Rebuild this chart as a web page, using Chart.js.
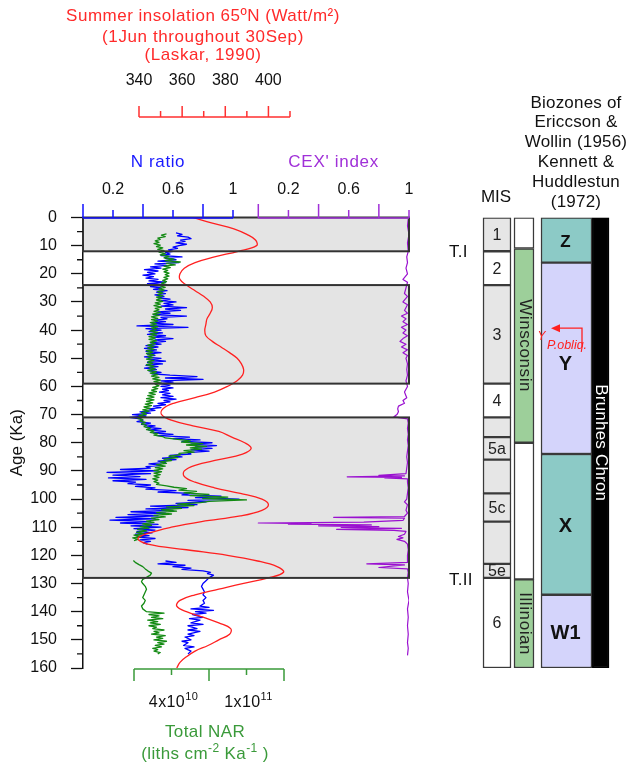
<!DOCTYPE html>
<html>
<head>
<meta charset="utf-8">
<script src="https://cdn.jsdelivr.net/npm/chart.js@4.4.1/dist/chart.umd.min.js"></script>
<style>
  html, body { margin: 0; padding: 0; background: #fff; }
  #wrap { position: relative; width: 630px; height: 764px; }
  #wrap canvas { position: absolute; left: 0; top: 0; }
</style>
</head>
<body>
<div id="wrap">
  <canvas id="main" width="630" height="764"></canvas>
  <canvas id="cols" width="630" height="764"></canvas>
</div>
<script>
// ---- data (ages in Ka) ----
const glacialBands = [[0, 12], [24, 59], [71, 128]];

// summer insolation 65N, [age, W/m2]
const insolation = [[0,365],[2,374],[4,384],[6,390],[8,394],[10,394.5],[12,386],[14,375],[16,366],[18,361],[20,359],[22,359],
  [24,362],[26,366],[28,370],[30,373],[32,374],[34,373],[36,371.5],[38,371],[40,370.5],[42,371],[44,374],[46,378],[48,382],
  [50,385.5],[52,387.5],[54,388.5],[56,388],[58,385.5],[60,381],[62,375],[64,366],[66,356],[68,351],[70,350.5],[72,355],
  [74,365],[76,377],[78,383],[80,389],[82,392],[84,388],[86,377],[88,366],[90,361],[92,361],[94,366],[96,375],[98,387],
  [100,397],[102,400],[104,397],[106,387],[108,369],[110,355],[112,345],[114,339.5],[116,344],[118,362],[120,381],[122,395],
  [124,404],[126,407],[128,400],[130,388],[132,377],[134,366],[136,359],[138,357.5],[140,362],[142,370],[144,377],[146,382.5],
  [148,382],[150,377],[152,372],[154,366],[156,362],[158,359],[160,357.5]];

// N ratio, [age, value]
const nRatio = [[5.5,0.62],[6,0.66],[6.5,0.63],[7,0.70],[7.5,0.72],[8,0.65],[8.5,0.68],[9,0.62],[9.5,0.69],[10,0.64],
  [10.5,0.60],[11,0.63],[11.5,0.57],[12,0.60],[12.5,0.55],[13,0.58],[13.5,0.52],[14,0.66],[14.5,0.55],[15,0.62],[15.5,0.50],
  [16,0.64],[16.5,0.48],[17,0.56],[17.5,0.45],[18,0.52],[18.5,0.41],[19,0.50],[19.5,0.43],[20,0.48],[20.5,0.40],[21,0.47],
  [21.5,0.42],[22,0.50],[22.5,0.44],[23,0.55],[23.5,0.43],[24,0.56],[24.5,0.45],[25,0.52],[25.5,0.47],[26,0.56],[26.5,0.49],
  [27,0.55],[27.5,0.48],[28,0.54],[28.5,0.50],[29,0.58],[29.5,0.52],[30,0.62],[30.5,0.54],[31,0.60],[31.5,0.52],[32,0.69],
  [32.5,0.55],[33,0.65],[33.5,0.50],[34,0.58],[34.5,0.47],[35,0.69],[35.5,0.52],[36,0.56],[36.5,0.48],[37,0.55],[37.5,0.46],
  [38,0.60],[38.5,0.36],[39,0.70],[39.5,0.42],[40,0.52],[40.5,0.44],[41,0.53],[41.5,0.43],[42,0.55],[42.5,0.47],[43,0.60],
  [43.5,0.48],[44,0.55],[44.5,0.45],[45,0.52],[45.5,0.42],[46,0.50],[46.5,0.41],[47,0.49],[47.5,0.42],[48,0.52],[48.5,0.43],
  [49,0.48],[49.5,0.41],[50,0.52],[50.5,0.44],[51,0.55],[51.5,0.43],[52,0.53],[52.5,0.42],[53,0.50],[53.5,0.41],[54,0.49],
  [54.5,0.44],[55,0.52],[55.5,0.46],[56,0.58],[56.5,0.76],[57,0.55],[57.5,0.80],[58,0.52],[58.5,0.60],[59,0.51],[59.5,0.58],
  [60,0.52],[60.5,0.60],[61,0.53],[61.5,0.57],[62,0.51],[62.5,0.58],[63,0.53],[63.5,0.60],[64,0.52],[64.5,0.62],[65,0.54],
  [65.5,0.58],[66,0.50],[66.5,0.55],[67,0.47],[67.5,0.52],[68,0.44],[68.5,0.48],[69,0.38],[69.5,0.45],[70,0.33],[70.5,0.42],
  [71,0.31],[71.5,0.38],[72,0.40],[72.5,0.36],[73,0.45],[73.5,0.39],[74,0.48],[74.5,0.42],[75,0.52],[75.5,0.44],[76,0.55],
  [76.5,0.47],[77,0.60],[77.5,0.50],[78,0.71],[78.5,0.60],[79,0.78],[79.5,0.66],[80,0.86],[80.5,0.72],[81,0.89],[81.5,0.75],
  [82,0.86],[82.5,0.72],[83,0.84],[83.5,0.70],[84,0.72],[84.5,0.58],[85,0.66],[85.5,0.53],[86,0.62],[86.5,0.50],[87,0.55],
  [87.5,0.44],[88,0.52],[88.5,0.42],[89,0.45],[89.5,0.25],[90,0.50],[90.5,0.16],[91,0.45],[91.5,0.20],[92,0.38],[92.5,0.17],
  [93,0.42],[93.5,0.20],[94,0.35],[94.5,0.30],[95,0.45],[95.5,0.35],[96,0.48],[96.5,0.42],[97,0.62],[97.5,0.50],[98,0.71],
  [98.5,0.66],[99,0.92],[99.5,0.75],[100,1.04],[100.5,0.70],[101,0.82],[101.5,0.62],[102,0.76],[102.5,0.45],[103,0.70],
  [103.5,0.42],[104,0.60],[104.5,0.32],[105,0.55],[105.5,0.30],[106,0.50],[106.5,0.22],[107,0.48],[107.5,0.18],[108,0.45],
  [108.5,0.25],[109,0.50],[109.5,0.32],[110,0.52],[110.5,0.34],[111,0.48],[111.5,0.36],[112,0.46],[112.5,0.35],[113,0.44],
  [113.5,0.36],[114,0.48],[114.5,0.38],[115,0.45],[115.5,0.40],[116,0.43],[119,null],
  [122,0.55],[122.5,0.62],[123,0.50],[123.5,0.68],[124,0.60],[124.5,0.72],[125,0.66],[125.5,0.80],[126,0.85],[126.5,0.83],
  [127,0.87],[128,0.84],[129,0.82],[130,0.80],[131,0.79],[132,0.80],[133,0.81],[134,0.80],[135,0.82],[136,0.80],[137,0.81],
  [138,0.78],[138.5,0.84],[139,0.72],[139.5,0.87],[140,0.75],[140.5,0.82],[141,0.73],[142,0.80],[142.5,0.71],[143,0.78],
  [144,0.72],[144.5,0.80],[145,0.70],[146,0.76],[146.5,0.70],[147,0.78],[148,0.70],[148.5,0.74],[149,0.68],[150,0.72],
  [150.5,0.66],[151,0.70],[152,0.67],[152.5,0.74],[153,0.68],[154,0.72],[155,0.70]];

// total NAR, [age, value x 1e10]
const totalNAR = [[5.8,3.6],[6.3,3.2],[6.8,3.5],[7.3,2.9],[7.8,3.1],[8.3,2.7],[8.8,3.0],[9.3,2.6],[9.8,3.1],[10.3,2.8],
  [10.8,3.3],[11.3,2.9],[11.8,3.4],[12.3,3.0],[12.8,3.5],[13.3,3.1],[13.8,3.8],[14.3,3.4],[14.8,4.2],[15.3,3.5],[15.8,4.7],
  [16.3,3.6],[16.8,4.3],[17.3,3.4],[17.8,3.9],[18.3,3.3],[18.8,3.7],[19.3,3.4],[19.8,3.8],[20.3,3.5],[20.8,3.8],[21.3,3.4],
  [21.8,3.7],[22.3,3.3],[22.8,3.6],[23.3,3.2],[23.8,3.6],[24.3,3.1],[24.8,3.5],[25.3,3.0],[25.8,3.4],[26.3,2.9],[26.8,3.3],
  [27.3,2.9],[27.8,3.3],[28.3,2.8],[28.8,3.2],[29.3,2.8],[29.8,3.3],[30.3,2.7],[30.8,3.1],[31.3,2.6],[31.8,3.2],[32.3,2.7],
  [32.8,3.0],[33.3,2.6],[33.8,3.1],[34.3,2.5],[34.8,3.0],[35.3,2.4],[35.8,2.9],[36.3,2.4],[36.8,2.9],[37.3,2.3],[37.8,2.8],
  [38.3,2.3],[38.8,2.9],[39.3,2.4],[39.8,2.8],[40.3,2.3],[40.8,2.9],[41.3,2.3],[41.8,2.8],[42.3,2.2],[42.8,2.7],[43.3,2.2],
  [43.8,2.8],[44.3,2.3],[44.8,2.7],[45.3,2.1],[45.8,2.6],[46.3,2.1],[46.8,2.6],[47.3,2.0],[47.8,2.5],[48.3,2.0],[48.8,2.6],
  [49.3,2.1],[49.8,2.5],[50.3,2.0],[50.8,2.6],[51.3,2.1],[51.8,2.5],[52.3,2.0],[52.8,2.6],[53.3,2.2],[53.8,2.7],[54.3,2.1],
  [54.8,2.8],[55.3,2.3],[55.8,2.9],[56.3,2.4],[56.8,3.0],[57.3,2.5],[57.8,3.1],[58.3,2.6],[58.8,3.2],[59.3,2.7],[59.8,3.0],
  [60.3,2.5],[60.8,2.9],[61.3,2.4],[61.8,2.8],[62.3,2.2],[62.8,2.7],[63.3,2.1],[63.8,2.6],[64.3,2.0],[64.8,2.6],[65.3,2.0],
  [65.8,2.5],[66.3,1.9],[66.8,2.4],[67.3,1.8],[67.8,2.3],[68.3,1.7],[68.8,2.2],[69.3,1.6],[69.8,2.0],[70.3,1.4],[70.8,1.9],
  [71.3,1.3],[71.8,1.7],[72.3,1.5],[72.8,1.9],[73.3,1.6],[73.8,2.0],[74.3,1.8],[74.8,2.3],[75.3,2.0],[75.8,2.6],[76.3,2.3],
  [76.8,2.9],[77.3,2.6],[77.8,3.3],[78.3,3.5],[78.8,4.5],[79.3,5.5],[79.8,4.8],[80.3,6.5],[80.8,5.2],[81.3,6.8],[81.8,5.5],
  [82.3,6.4],[82.8,5.0],[83.3,5.8],[83.8,4.6],[84.3,4.7],[84.8,3.8],[85.3,4.5],[85.8,3.4],[86.3,4.0],[86.8,3.1],[87.3,3.6],
  [87.8,2.8],[88.3,3.5],[88.8,2.7],[89.3,3.3],[89.8,2.6],[90.3,3.2],[90.8,2.6],[91.3,3.1],[91.8,2.6],[92.3,3.0],[92.8,2.5],
  [93.3,2.9],[93.8,2.6],[94.3,3.0],[94.8,2.8],[95.3,3.6],[95.8,4.2],[96.3,5.2],[96.8,4.6],[97.3,6.0],[97.8,5.0],[98.3,7.0],
  [98.8,5.5],[99.3,8.5],[99.8,6.5],[100.3,10.0],[100.8,7.0],[101.3,6.3],[101.8,4.5],[102.3,5.8],[102.8,3.6],[103.3,4.8],
  [103.8,3.2],[104.3,4.4],[104.8,2.8],[105.3,4.0],[105.8,2.6],[106.3,3.5],[106.8,2.4],[107.3,3.0],[107.8,2.0],[108.3,2.6],
  [108.8,1.7],[109.3,2.4],[109.8,1.5],[110.3,2.2],[110.8,1.3],[111.3,2.0],[111.8,1.2],[112.3,1.8],[112.8,1.0],[113.3,1.6],
  [113.8,0.9],[114.3,1.3],[114.8,1.0],[118,null],
  [121.8,0.95],[122.5,1.1],[123.3,1.4],[124,1.7],[124.8,1.9],[125.5,2.1],[126.3,2.4],[127,2.3],[127.8,2.0],[128.5,1.7],
  [129.3,1.6],[130,1.7],[131,1.9],[132,2.0],[133,1.9],[134,1.8],[135,1.7],[136,1.9],[137,1.8],[138,1.6],[139,1.7],[140,2.0],
  [140.5,3.4],[141,2.2],[141.5,3.0],[142,2.4],[142.5,3.3],[143,2.1],[143.5,2.9],[144,2.3],[144.5,3.1],[145,2.2],[145.5,2.8],
  [146,2.5],[146.5,3.4],[147,2.6],[147.5,3.0],[148,2.4],[148.5,3.5],[149,2.8],[149.5,3.3],[150,2.6],[150.5,3.6],[151,2.9],
  [151.5,3.4],[152,2.7],[152.5,3.2],[153,2.5],[153.5,2.9],[154,2.6],[154.5,3.1],[155,2.9]];

// CEX' index, [age, value]
const cexIndex = [[0.5,0.995],[3,0.99],[6,1.0],[9,0.99],[12,0.995],[14,0.985],[16,0.99],[18,0.98],[20,0.99],[22,0.96],
  [23,0.99],[25,0.98],[27,0.97],[28,0.99],[30,0.96],[31,0.99],[33,0.97],[34,0.99],[35,0.95],[36,0.98],[37,0.96],[38,0.99],
  [39,0.95],[40,0.98],[41,0.96],[42,0.99],[43,0.96],[44,0.94],[45,0.98],[46,0.95],[47,0.99],[48,0.96],[49,0.99],[50,0.98],
  [52,0.99],[54,0.985],[56,0.99],[58,0.98],[60,0.99],[62,0.97],[64,0.985],[65,0.96],[66,0.97],[67,0.93],[68,0.925],
  [69,0.93],[70,0.92],[70.8,0.90],[71.5,0.99],[73,0.995],[75,0.99],[77,0.995],[79,0.99],[81,0.995],[83,0.99],[85,0.985],
  [87,0.99],[89,0.985],[91,0.98],[91.6,0.80],[91.8,0.97],[92.1,0.59],[92.3,0.95],[92.5,0.84],[92.8,0.99],[94,0.99],
  [96,0.995],[98,0.99],[100,0.985],[101,0.97],[102,0.99],[104,0.98],[105,0.99],[106.2,0.97],[106.5,0.50],[106.8,0.97],
  [107.6,0.96],[108.2,0.70],[108.5,0.0],[108.7,0.35],[108.9,0.20],[109.2,0.75],[109.5,0.40],[109.8,0.80],[110.1,0.55],
  [110.4,0.95],[110.8,0.52],[111.1,0.90],[111.5,0.98],[112.5,0.97],[113.3,0.93],[113.8,0.96],[114.3,0.92],[115,0.97],
  [116,0.99],[118,0.995],[120,0.99],[122.5,0.99],[123,0.72],[123.4,0.97],[124.3,0.80],[124.8,0.99],[126,0.995],[128,0.99],
  [130,0.995],[133,0.99],[136,1.0],[139,0.99],[142,0.995],[145,0.99],[148,0.995],[151,0.99],[153,0.995],[155.5,0.99]];

// tick labels
const ageTickStep = 10;
const insolationTicks = [340, 360, 380, 400];
const nRatioTicks = [0.2, 0.6, 1];
const cexTicks = [0.2, 0.6, 1];
const narTicks = [[4, '4x10', '10'], [10, '1x10', '11']];

// stratigraphic columns [label, from, to]
const misStages = [['1',0,12],['2',12,24],['3',24,59],['4',59,71],['',71,78],['5a',78,86],['',86,98],['5c',98,108],
  ['',108,123],['5e',123,128],['6',128,160]];
const landStages = [['',0,11],['Winsconsin',11,80],['',80,128.5],['Illinoian',128.5,160]];
const biozones = [['Z',0,16],['Y',16,84],['X',84,134],['W1',134,160]];
const chrons = [['Brunhes Chron',0,160]];
const terminations = [['T.I',12],['T.II',128.5]];
const obliqDatum = 39.3;

// ---- drawing ----
const FONT = '"Liberation Sans", Arial, sans-serif';
Chart.defaults.font.family = FONT;

function txt(ctx, s, x, y, o = {}) {
  ctx.save();
  ctx.font = `${o.style || ''} ${o.weight || ''} ${o.size || 17}px ${FONT}`;
  ctx.fillStyle = o.color || '#111';
  ctx.textAlign = o.align || 'center';
  ctx.textBaseline = 'middle';
  ctx.letterSpacing = o.spacing || '0px';
  if (o.rotate) {
    ctx.translate(x, y);
    ctx.rotate(o.rotate);
    ctx.fillText(s, 0, 0);
  } else {
    ctx.fillText(s, x, y);
  }
  ctx.restore();
}

function supText(ctx, parts, cx, y, size, color) {
  ctx.save();
  ctx.fillStyle = color;
  ctx.textBaseline = 'alphabetic';
  ctx.textAlign = 'left';
  ctx.letterSpacing = '0.4px';
  const big = `${size}px ${FONT}`, small = `${Math.round(size * 0.68)}px ${FONT}`;
  let w = 0;
  parts.forEach(([t, s]) => { ctx.font = s ? small : big; w += ctx.measureText(t).width; });
  let x = cx - w / 2;
  const base = y + size * 0.36;
  parts.forEach(([t, s]) => {
    ctx.font = s ? small : big;
    ctx.fillText(t, x, s ? base - size * 0.42 : base);
    x += ctx.measureText(t).width;
  });
  ctx.restore();
}

function tickAxis(ctx, scale, y, from, to, step, dir, longLen, shortLen, color) {
  ctx.save();
  ctx.strokeStyle = color;
  ctx.lineWidth = 1.5;
  ctx.beginPath();
  ctx.moveTo(scale.getPixelForValue(from), y);
  ctx.lineTo(scale.getPixelForValue(to), y);
  const n = Math.round((to - from) / step);
  for (let i = 0; i <= n; i++) {
    const x = scale.getPixelForValue(from + i * step);
    ctx.moveTo(x, y);
    ctx.lineTo(x, y + dir * (i % 2 === 0 ? longLen : shortLen));
  }
  ctx.stroke();
  ctx.restore();
}

const framePlugin = {
  id: 'frame',
  beforeDatasetsDraw(chart) {
    const { ctx, chartArea: a, scales: { y } } = chart;
    ctx.save();
    ctx.fillStyle = '#e4e4e4';
    glacialBands.forEach(([t, b]) => {
      const y1 = y.getPixelForValue(t), y2 = y.getPixelForValue(b);
      ctx.fillRect(a.left, y1, a.right - a.left, y2 - y1);
    });
    ctx.restore();
  },
  afterDatasetsDraw(chart) {
    const { ctx, chartArea: a, scales: { y } } = chart;
    ctx.save();
    ctx.strokeStyle = '#333';
    ctx.lineWidth = 2;
    glacialBands.forEach(([t, b]) => {
      const y1 = y.getPixelForValue(t), y2 = y.getPixelForValue(b);
      ctx.strokeRect(a.left, y1, a.right - a.left, y2 - y1);
    });
    // minor age ticks
    ctx.strokeStyle = '#111';
    ctx.lineWidth = 1.3;
    ctx.beginPath();
    for (let v = ageTickStep / 2; v < 160; v += ageTickStep) {
      const py = y.getPixelForValue(v);
      ctx.moveTo(a.left - 6, py);
      ctx.lineTo(a.left, py);
    }
    ctx.stroke();
    ctx.restore();
  },
  afterDraw(chart) {
    const { ctx, chartArea: a, scales: s } = chart;
    const top = a.top + 0.5;
    // N ratio
    tickAxis(ctx, s.xN, top, 0, 1, 0.2, -1, 14, 8, '#1010ff');
    nRatioTicks.forEach(v => txt(ctx, String(v), s.xN.getPixelForValue(v), 190, { size: 16 }));
    txt(ctx, 'N ratio', s.xN.getPixelForValue(0.5), 162, { color: '#1a1aff', spacing: '0.6px' });
    // CEX'
    tickAxis(ctx, s.xC, top, 0, 1, 0.2, -1, 14, 8, '#a030d8');
    cexTicks.forEach(v => txt(ctx, String(v), s.xC.getPixelForValue(v), 190, { size: 16 }));
    txt(ctx, "CEX' index", s.xC.getPixelForValue(0.5), 162, { color: '#a030d8', spacing: '0.7px' });
    // insolation
    tickAxis(ctx, s.xI, 117, 340, 410, 10, -1, 11, 6, '#ff3030');
    insolationTicks.forEach(v => txt(ctx, String(v), s.xI.getPixelForValue(v), 81, { size: 16 }));
    const ix = 203;
    txt(ctx, 'Summer insolation 65ºN (Watt/m²)', ix, 16.5, { color: '#ff2a2a', spacing: '0.5px' });
    txt(ctx, '(1Jun throughout 30Sep)', ix, 37, { color: '#ff2a2a', spacing: '0.6px' });
    txt(ctx, '(Laskar, 1990)', ix, 55.5, { color: '#ff2a2a', spacing: '0.6px' });
    // total NAR
    tickAxis(ctx, s.xR, a.bottom + 1, 1, 13, 3, 1, 12, 6, '#3a9a3a');
    narTicks.forEach(([v, base, exp]) => supText(ctx, [[base, false], [exp, true]], s.xR.getPixelForValue(v) + 2, 701, 16, '#111'));
    txt(ctx, 'Total NAR', 205, 732, { color: '#3a9a3a', spacing: '0.4px' });
    supText(ctx, [['(liths cm', false], ['-2', true], [' Ka', false], ['-1', true], [' )', false]], 205, 753, 17, '#3a9a3a');
    // terminations
    terminations.forEach(([t, age]) => txt(ctx, t, 449, s.y.getPixelForValue(age) + 1, { align: 'left', spacing: '0.3px' }));
  }
};

const pairs = (arr) => arr.map(([age, v]) => ({ x: v, y: age }));

new Chart(document.getElementById('main'), {
  type: 'line',
  data: {
    datasets: [
      { data: pairs(insolation), xAxisID: 'xI', yAxisID: 'y', borderColor: '#ff2020', borderWidth: 1.3, tension: 0.4 },
      { data: pairs(cexIndex), xAxisID: 'xC', yAxisID: 'y', borderColor: '#9a10d0', borderWidth: 1.2 },
      { data: pairs(totalNAR), xAxisID: 'xR', yAxisID: 'y', borderColor: '#138a13', borderWidth: 1.3 },
      { data: pairs(nRatio), xAxisID: 'xN', yAxisID: 'y', borderColor: '#0000ff', borderWidth: 1.3 }
    ]
  },
  options: {
    responsive: false,
    animation: false,
    indexAxis: 'y',
    layout: { padding: { left: 0, right: 221, top: 217.5, bottom: 96 } },
    elements: { point: { radius: 0 }, line: { borderJoinStyle: 'round' } },
    plugins: { legend: { display: false }, tooltip: { enabled: false } },
    scales: {
      y: {
        type: 'linear', position: 'left', reverse: true, min: 0, max: 160,
        afterFit(scale) { scale.width = 83; },
        ticks: { stepSize: ageTickStep, padding: 14, color: '#111', font: { size: 16 } },
        grid: { drawOnChartArea: false, tickLength: 12, color: '#111', tickWidth: 1.3 },
        border: { color: '#111', width: 1.5 },
        title: { display: true, text: 'Age (Ka)', color: '#111', font: { size: 17 }, padding: { top: 7, bottom: 0 } }
      },
      xN: { type: 'linear', display: false, min: 0, max: 2.1733 },
      xC: { type: 'linear', display: false, min: -1.1633, max: 1.0 },
      xI: { type: 'linear', display: false, min: 314.04, max: 465.17 },
      xR: { type: 'linear', display: false, min: -3.08, max: 23 }
    }
  },
  plugins: [framePlugin]
});

// ---- right-hand stratigraphic columns ----
const colLayout = {
  mis: { x: 497, w: 28 },
  land: { x: 524, w: 20 },
  bio: { x: 566.5, w: 51 },
  chron: { x: 600.5, w: 17 }
};
const colFill = {
  misWarm: '#e6e6e6', misCold: '#ffffff', land: '#9dcf9a', none: '#ffffff',
  Z: '#8ccac6', Y: '#d4d4fb', X: '#8ccac6', W1: '#d4d4fb'
};

function colDataset(rows, col, fill) {
  return {
    data: rows.map(([, from, to]) => ({ x: col.x, y: [from, to] })),
    backgroundColor: rows.map(fill),
    barThickness: col.w,
    borderWidth: 1.5,
    borderColor: '#3a3a3a',
    borderSkipped: false,
    grouped: false
  };
}

const colLabels = {
  id: 'colLabels',
  afterDatasetsDraw(chart) {
    const { ctx, scales: { x, y } } = chart;
    const mid = (r) => y.getPixelForValue((r[1] + r[2]) / 2);
    misStages.forEach(r => r[0] && txt(ctx, r[0], x.getPixelForValue(colLayout.mis.x), mid(r) + 1, { size: 16, color: '#222' }));
    landStages.forEach(r => r[0] && txt(ctx, r[0], x.getPixelForValue(colLayout.land.x) + 1, mid(r), { color: '#222', rotate: Math.PI / 2, spacing: '0.6px' }));
    biozones.forEach(r => txt(ctx, r[0], x.getPixelForValue(colLayout.bio.x) - 1, mid(r) + (r[0] === 'Y' ? 6 : 2), { weight: 'bold', size: r[0] === 'Z' ? 17 : 20, color: '#111' }));
    chrons.forEach(r => txt(ctx, r[0], x.getPixelForValue(colLayout.chron.x), mid(r), { color: '#fff', rotate: Math.PI / 2, spacing: '0.2px' }));

    // Y P. obliquiloculata datum arrow
    const ay = y.getPixelForValue(obliqDatum);
    ctx.save();
    ctx.strokeStyle = '#ff2020';
    ctx.fillStyle = '#ff2020';
    ctx.lineWidth = 1.3;
    ctx.beginPath();
    ctx.moveTo(582, ay + 19);
    ctx.lineTo(582, ay);
    ctx.lineTo(558, ay);
    ctx.stroke();
    ctx.beginPath();
    ctx.moveTo(551, ay);
    ctx.lineTo(560, ay - 4);
    ctx.lineTo(560, ay + 4);
    ctx.closePath();
    ctx.fill();
    ctx.restore();
    txt(ctx, 'Y', 541.5, ay + 9, { size: 12, color: '#ff2020', style: 'italic' });
    txt(ctx, 'P.obliq.', 547, ay + 17, { size: 12.5, color: '#ff2020', style: 'italic', align: 'left' });

    // headers
    txt(ctx, 'MIS', 496, 197);
    ['Biozones of', 'Ericcson &', 'Wollin (1956)', 'Kennett &', 'Huddlestun', '(1972)']
      .forEach((t, i) => txt(ctx, t, 576, 103 + i * 19.8, { spacing: '0.2px' }));
  }
};

new Chart(document.getElementById('cols'), {
  type: 'bar',
  data: {
    datasets: [
      colDataset(misStages, colLayout.mis, r => (/^[246]/.test(r[0]) ? colFill.misCold : colFill.misWarm)),
      colDataset(landStages, colLayout.land, r => (r[0] ? colFill.land : colFill.none)),
      colDataset(biozones, colLayout.bio, r => colFill[r[0]]),
      Object.assign(colDataset(chrons, colLayout.chron, () => '#000'), { borderColor: '#000' })
    ]
  },
  options: {
    responsive: false,
    animation: false,
    layout: { padding: { left: 480, right: 0, top: 217.5, bottom: 96 } },
    plugins: { legend: { display: false }, tooltip: { enabled: false } },
    scales: {
      x: { type: 'linear', display: false, offset: false, min: 480, max: 630 },
      y: { type: 'linear', display: false, reverse: true, min: 0, max: 160 }
    }
  },
  plugins: [colLabels]
});
</script>
</body>
</html>
